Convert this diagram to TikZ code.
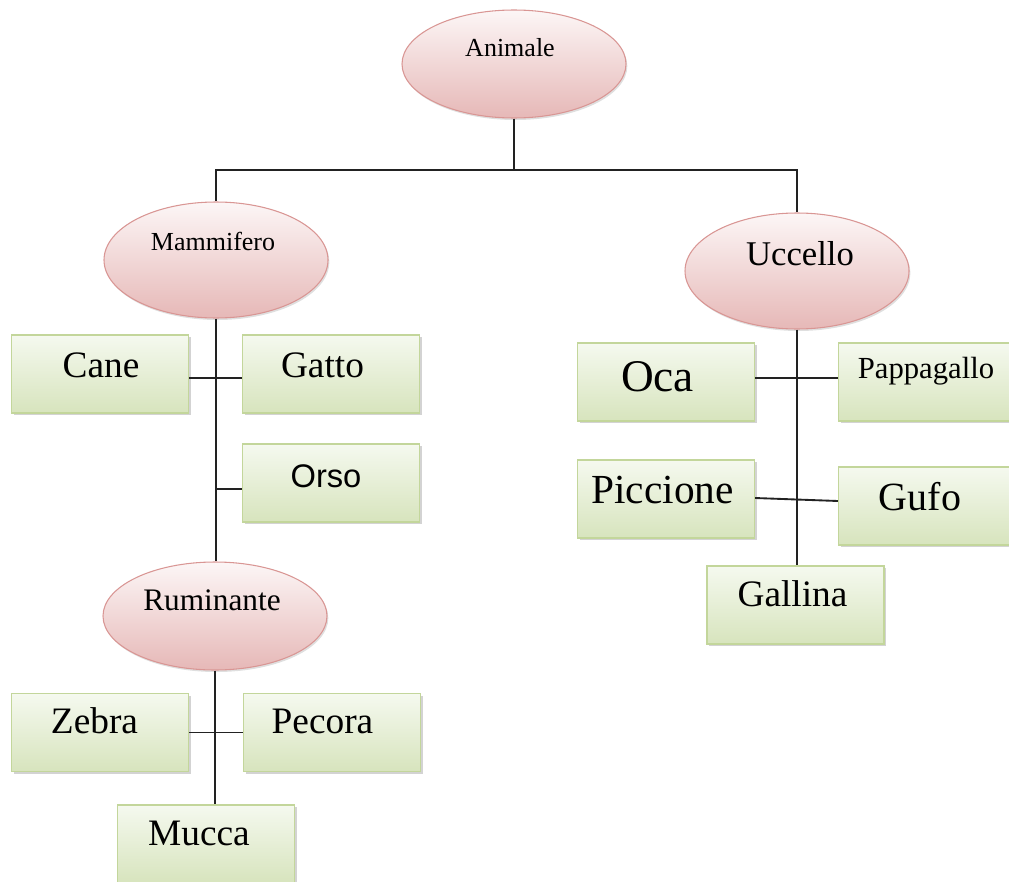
\documentclass[tikz,border=0pt]{standalone}
\usepackage{fontspec}
\setmainfont{Liberation Serif}
\newfontfamily\orsofont{Liberation Sans}
\usetikzlibrary{shapes.geometric,shadows}
\definecolor{elltop}{HTML}{FCF6F6}
\definecolor{ellbot}{HTML}{E6B8B7}
\definecolor{ellline}{HTML}{D99694}
\definecolor{boxtop}{HTML}{F5F9EF}
\definecolor{boxbot}{HTML}{D7E4BD}
\definecolor{boxline}{HTML}{C3D69B}
\definecolor{wire}{HTML}{222222}
\tikzset{
  ellnode/.style={ellipse, draw=ellline, line width=0.8pt, top color=elltop, bottom color=ellbot,
    minimum width=168pt, minimum height=#1, inner sep=0pt,
    drop shadow={shadow xshift=1pt, shadow yshift=-1.5pt, opacity=0.25}},
  boxnode/.style={rectangle, draw=boxline, line width=0.8pt, top color=boxtop, bottom color=boxbot,
    minimum width=132.75pt, minimum height=58.5pt, inner sep=0pt,
    drop shadow={shadow xshift=1.8pt, shadow yshift=-1.8pt, opacity=0.35}},
  wireline/.style={draw=wire, line width=1.4pt},
  lbl/.style={anchor=base, inner sep=0pt, text=black},
}
\newcommand{\fsz}[1]{\fontsize{#1}{#1}\selectfont}
\begin{document}
\begin{tikzpicture}[x=0.75pt,y=-0.75pt]
\useasboundingbox (0,0) rectangle (1009,881);
% ellipses
\node[ellnode=81pt] (animale) at (514,64) {};
\node[ellnode=87pt] (mamm) at (216,260) {};
\node[ellnode=87pt] (ucc) at (797,271) {};
\node[ellnode=81pt] (rum) at (215,616) {};
% boxes
\node[boxnode] (cane) at (100,374) {};
\node[boxnode] (gatto) at (331,374) {};
\node[boxnode] (orso) at (331,483) {};
\node[boxnode] (zebra) at (100,732.5) {};
\node[boxnode] (pecora) at (332,732.5) {};
\node[boxnode] (mucca) at (206,844) {};
\node[boxnode] (oca) at (666,382) {};
\node[boxnode] (papp) at (927,382) {};
\node[boxnode] (picc) at (666,499) {};
\node[boxnode] (gufo) at (927,506) {};
\node[boxnode] (gallina) at (795.5,605) {};
% connectors
\coordinate (bus) at (514,170);
\draw[wireline] (animale.south) -- (bus);
\draw[wireline] (bus) -| (mamm.north);
\draw[wireline] (bus) -| (ucc.north);
\draw[wireline] (mamm.south) -- (mamm.south |- rum.north);
\draw[wireline] ([yshift=-3pt]cane.east) -- ([yshift=-3pt]gatto.west);
\draw[wireline] ([yshift=-4.5pt]orso.west) -- ([yshift=-4.5pt]orso.west -| mamm.south);
\draw[wireline] (rum.south) -- (rum.south |- mucca.north);
\draw[wireline] (zebra.east) -- (pecora.west);
\draw[wireline] (ucc.south) -- (ucc.south |- gallina.north);
\draw[wireline] ([yshift=3pt]oca.east) -- ([yshift=3pt]papp.west);
\draw[wireline] ([yshift=0.75pt]picc.east) -- ([yshift=3.75pt]gufo.west);
% labels
\node[lbl] (animale-t) at (510,57) {\fsz{19.5}Animale};
\node[lbl] (mamm-t) at (213,250) {\fsz{19.5}Mammifero};
\node[lbl] (ucc-t) at (800,265) {\fsz{26}Uccello};
\node[lbl] (rum-t) at (212,610) {\fsz{23.5}Ruminante};
\node[lbl] (cane-t) at (101,377) {\fsz{28}Cane};
\node[lbl] (gatto-t) at (322.5,377) {\fsz{28}Gatto};
\node[lbl] (orso-t) at (326,487) {\orsofont\fsz{24.5}Orso};
\node[lbl] (zebra-t) at (94.5,733) {\fsz{28}Zebra};
\node[lbl] (pecora-t) at (322.5,733) {\fsz{28}Pecora};
\node[lbl] (mucca-t) at (199,845) {\fsz{28}Mucca};
\node[lbl] (oca-t) at (657.5,391) {\fsz{34}Oca};
\node[lbl] (papp-t) at (926,378) {\fsz{23}Pappagallo};
\node[lbl] (picc-t) at (662.5,503) {\fsz{31}Piccione};
\node[lbl] (gufo-t) at (920,510) {\fsz{30}Gufo};
\node[lbl] (gallina-t) at (792.5,606) {\fsz{28}Gallina};
\end{tikzpicture}
\end{document}
